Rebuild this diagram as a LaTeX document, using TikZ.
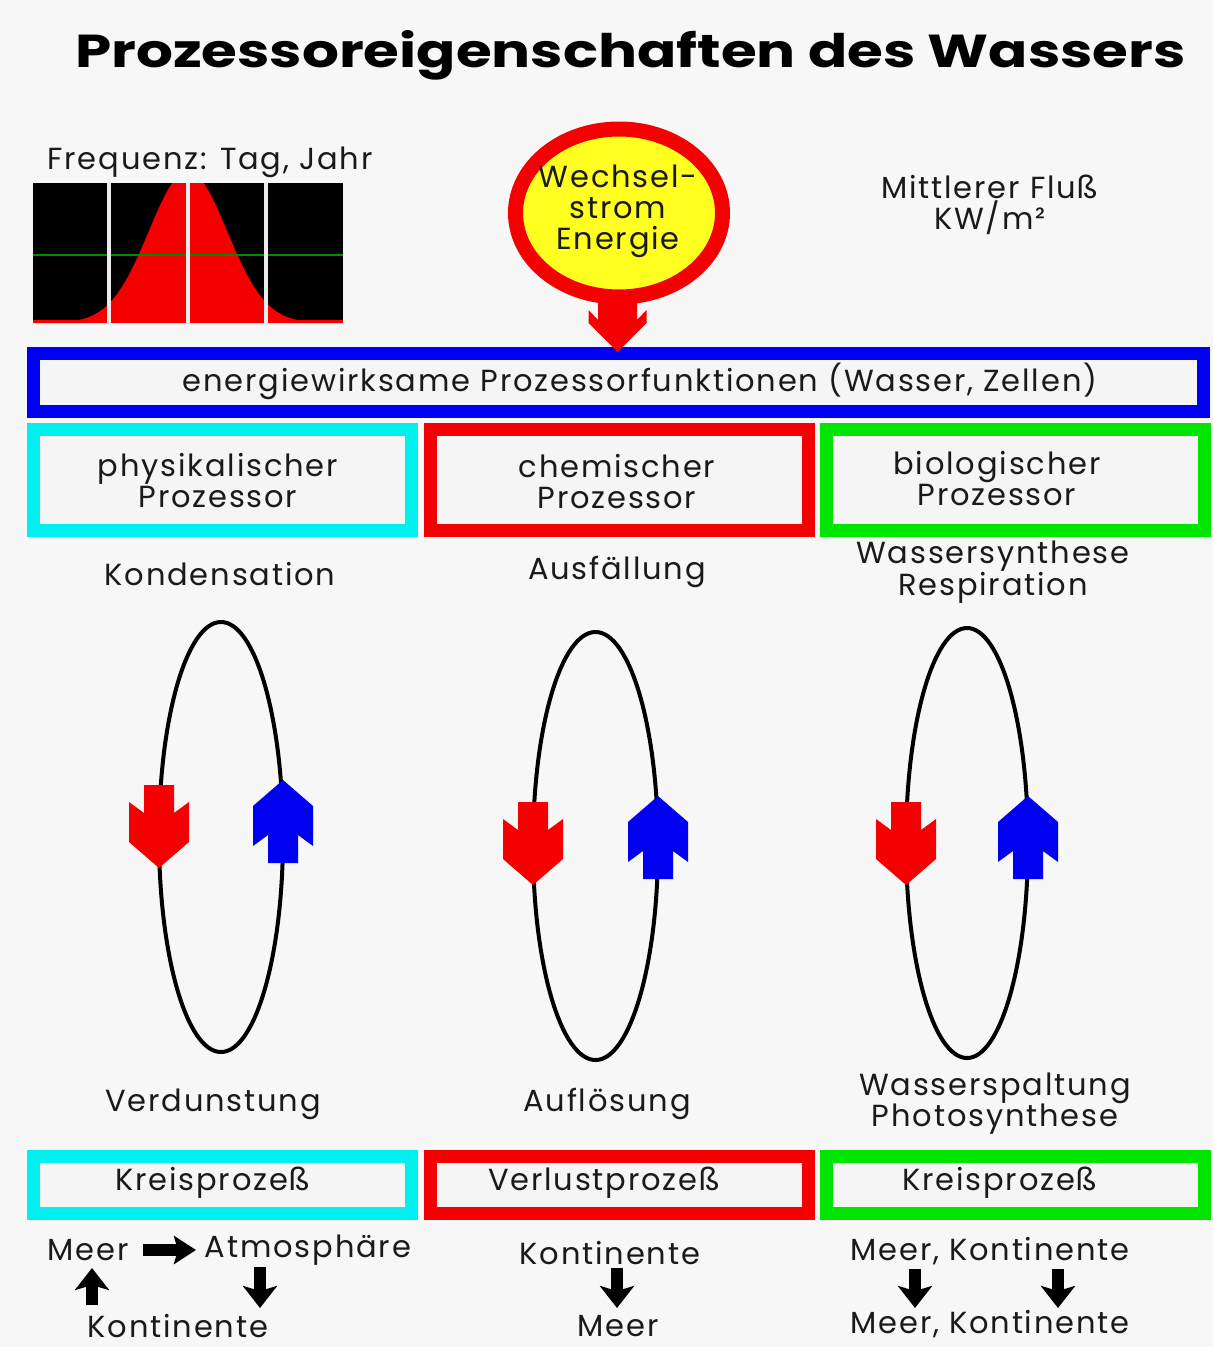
\documentclass[tikz,border=0pt]{standalone}
\usepackage{fontspec}
\setmainfont{Poppins}
\newfontfamily\labelfont[LetterSpace=6]{Poppins}
\usetikzlibrary{shapes.geometric,arrows.meta,calc}

\definecolor{bg}{HTML}{F7F7F7}
\definecolor{boxbg}{HTML}{F5F5F5}
\definecolor{ink}{HTML}{1A1A1A}
\definecolor{pcyan}{HTML}{00F0F0}
\definecolor{pred}{HTML}{F50000}
\definecolor{pgreen}{HTML}{00E600}
\definecolor{pblue}{HTML}{0000F0}
\definecolor{pyellow}{HTML}{FFFF20}
\definecolor{gridgreen}{HTML}{008A00}

\tikzset{
  lbl/.style={font=\labelfont\fontsize{30.5}{31}\selectfont, text=ink, align=center, inner sep=0pt},
  frame/.style={draw=#1, line width=13pt, fill=boxbg, inner sep=0pt, outer sep=0pt,
                minimum width=378pt},
  cycleloop/.style={ellipse, draw=black, line width=4pt, inner sep=0pt, outer sep=0pt,
                minimum width=124pt, minimum height=430pt},
  blk/.style={draw=black, line width=12pt,
              -{Stealth[length=22pt, width=34pt, inset=5pt]}},
  chev/.pic={\path[pic actions] (-15,0) -- (15,0) -- (15,28) -- (30,17) -- (30,57)
              -- (0,83) -- (-30,57) -- (-30,17) -- (-15,28) -- cycle;},
  bigchev/.pic={\path[pic actions] (-19.5,0) -- (19.5,0) -- (19.5,30) -- (29,20)
              -- (29,33) -- (0,62) -- (-29,33) -- (-29,20) -- (-19.5,30) -- cycle;}
}

\begin{document}
\begin{tikzpicture}[x=1pt, y=-1pt]
  % page
  \fill[bg] (0,0) rectangle (1213,1347);
  \useasboundingbox (0,0) rectangle (1213,1347);

  % title
  \node[anchor=base west, inner sep=0pt, text=black] (title) at (75,67)
    {\resizebox{1110pt}{37pt}{\bfseries Prozessoreigenschaften des Wassers}};

  % daily / yearly frequency chart
  \node[lbl] (freq) at (210,162) {Frequenz: Tag, Jahr};
  \fill[black] (33,183) rectangle (343,323);
  \begin{scope}
    \clip (33,183) rectangle (343,323);
    \fill[pred] (33,323) -- plot[domain=33:343, samples=180, smooth]
        (\x, {323-152*exp(-0.5*((\x-188)/39)^2)}) -- (343,323) -- cycle;
  \end{scope}
  \fill[pred] (33,320) rectangle (343,323);
  \draw[gridgreen, line width=2.5pt] (33,255) -- (343,255);
  \foreach \gx in {109,188,266}
    \draw[white!92!black, line width=4pt] (\gx,183) -- (\gx,323);

  % mean flux
  \node[lbl] (flux) at (990,205) {Mittlerer Fluß\\KW/m²};

  % energy source
  \coordinate (ea) at (617.5,290);
  \node[ellipse, draw=pred, line width=15pt, fill=pyellow, inner sep=0pt,
        minimum width=207pt, minimum height=168pt] (energy) at (619,213) {};
  \node[lbl] (energytxt) at (618,211) {Wechsel-\\strom\\Energie};

  % processor functions, fed by the energy arrow
  \node[frame=pblue, minimum width=1170pt, minimum height=58pt] (proc) at (618.5,382.5) {};
  \pic[fill=pred] at (ea) {bigchev};
  \node[lbl] (proctxt) at (640,381) {energiewirksame Prozessorfunktionen (Wasser, Zellen)};

  % three processors
  \node[frame=pcyan, minimum height=101pt] (phys) at (222.5,480) {};
  \node[frame=pred,  minimum height=101pt] (chem) at (619.5,480) {};
  \node[frame=pgreen,minimum height=101pt] (bio)  at (1015,480) {};
  \node[lbl] (physt) at (218,481) {physikalischer\\Prozessor};
  \node[lbl] (chemt) at (617,482) {chemischer\\Prozessor};
  \node[lbl] (biot)  at (997,479) {biologischer\\Prozessor};

  % upper process names
  \node[lbl] (kond) at (220,574) {Kondensation};
  \node[lbl] (ausf) at (617,572) {Ausfällung};
  \node[lbl] (wsyn) at (993,572) {Wassersynthese\\Respiration};

  % cycles
  \node[cycleloop] (c1) at (221,837) {};
  \node[cycleloop, minimum width=125pt, minimum height=428pt] (c2) at (595.5,846) {};
  \node[cycleloop, minimum width=122pt, minimum height=430pt] (c3) at (967,843) {};

  \pic[fill=pred] at (159,785) {chev};
  \pic[fill=pblue, rotate=180] at (283,863) {chev};
  \pic[fill=pred] at (533,802) {chev};
  \pic[fill=pblue, rotate=180] at (658,879) {chev};
  \pic[fill=pred] at (906,802) {chev};
  \pic[fill=pblue, rotate=180] at (1028,879) {chev};

  % lower process names
  \node[lbl] (verd) at (213,1104) {Verdunstung};
  \node[lbl] (aufl) at (607,1104) {Auflösung};
  \node[lbl] (wspa) at (995,1104) {Wasserspaltung\\Photosynthese};

  % process types
  \node[frame=pcyan, minimum height=57pt] (kp1) at (222.5,1185) {};
  \node[frame=pred,  minimum height=57pt] (vp)  at (619.5,1185) {};
  \node[frame=pgreen,minimum height=57pt] (kp2) at (1015,1185) {};
  \node[lbl] (kp1t) at (213,1183) {Kreisprozeß};
  \node[lbl] (vpt)  at (604,1183) {Verlustprozeß};
  \node[lbl] (kp2t) at (1000,1183) {Kreisprozeß};

  % water paths: physical
  \node[lbl] (meerA) at (88,1250) {Meer};
  \node[lbl] (atmo)  at (308,1250) {Atmosphäre};
  \node[lbl] (kontA) at (178,1326) {Kontinente};
  \coordinate (pa1) at (143,1250); \coordinate (pa2) at (196,1250);
  \coordinate (pb1) at (260,1267); \coordinate (pb2) at (260,1308);
  \coordinate (pc1) at (92,1305);  \coordinate (pc2) at (92,1268);
  \draw[blk, -{Stealth[length=22pt, width=28pt, inset=4pt]}] (pa1) -- (pa2);
  \draw[blk] (pb1) -- (pb2);
  \draw[blk] (pc1) -- (pc2);

  % water paths: chemical
  \node[lbl] (kontB) at (610,1253) {Kontinente};
  \node[lbl] (meerB) at (618,1326) {Meer};
  \coordinate (ca1) at (617,1268); \coordinate (ca2) at (617,1308);
  \draw[blk] (ca1) -- (ca2);

  % water paths: biological
  \node[lbl] (mkA) at (990,1251) {Meer, Kontinente};
  \node[lbl] (mkB) at (990,1324) {Meer, Kontinente};
  \coordinate (ba1) at (915,1269);  \coordinate (ba2) at (915,1308);
  \coordinate (bb1) at (1058,1269); \coordinate (bb2) at (1058,1308);
  \draw[blk] (ba1) -- (ba2);
  \draw[blk] (bb1) -- (bb2);
\end{tikzpicture}
\end{document}
